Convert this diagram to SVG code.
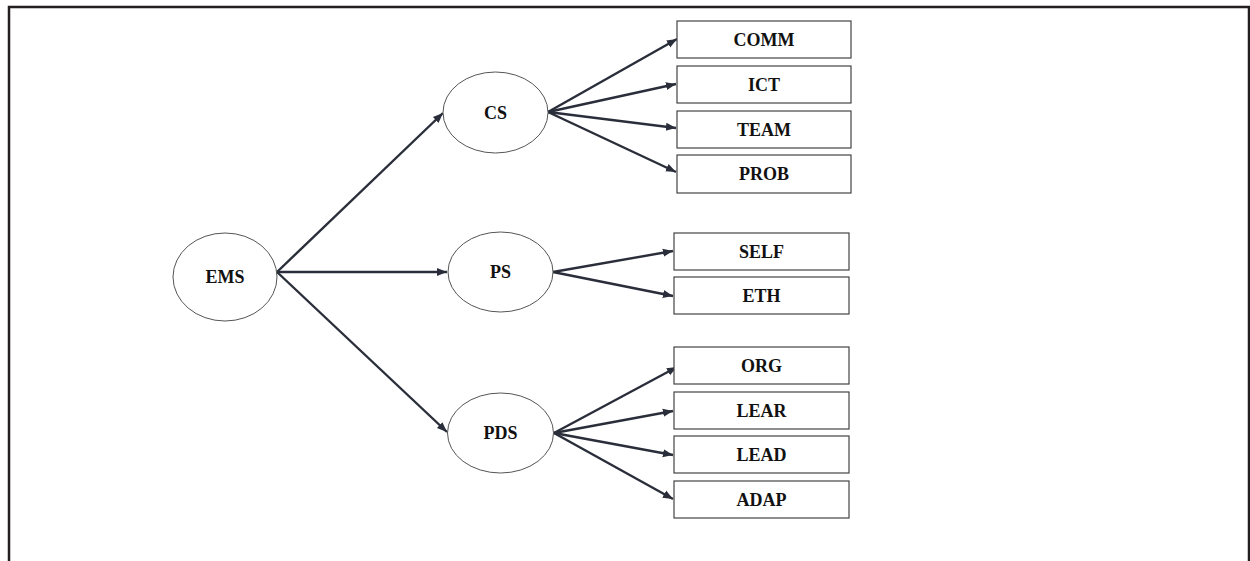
<svg xmlns="http://www.w3.org/2000/svg" width="1250" height="561" viewBox="0 0 1250 561">
<defs>
<marker id="ah" viewBox="0 0 10 10" refX="10" refY="5" markerWidth="4.2" markerHeight="4.2" orient="auto" markerUnits="strokeWidth">
<path d="M0,1 L10,5 L0,9 Z" fill="#2a2e3a"/>
</marker>
<style>
.frame{fill:none;stroke:#231f20;stroke-width:2.5}
.ell{fill:#fff;stroke:#555;stroke-width:1}
.box{fill:#fff;stroke:#444;stroke-width:1.2}
.lbl{font-family:"Liberation Serif","Times New Roman",serif;font-weight:bold;font-size:18px;fill:#111;text-anchor:middle;dominant-baseline:central}
.con{stroke:#2a2e3a;stroke-width:2.4;fill:none;marker-end:url(#ah)}
</style>
</defs>
<rect width="1250" height="561" fill="#fff"/>
<path class="frame" d="M9,561 L9,7 L1249,7 L1249,561"/>
<g id="connectors">
<line class="con" x1="277" y1="272" x2="443" y2="113"/>
<line class="con" x1="277" y1="272" x2="447" y2="272"/>
<line class="con" x1="277" y1="272" x2="447" y2="432"/>
<line class="con" x1="548" y1="112" x2="677" y2="39"/>
<line class="con" x1="548" y1="112" x2="676" y2="84"/>
<line class="con" x1="548" y1="112" x2="676" y2="128"/>
<line class="con" x1="548" y1="112" x2="676" y2="172"/>
<line class="con" x1="553" y1="272" x2="673" y2="251"/>
<line class="con" x1="553" y1="272" x2="673" y2="296"/>
<line class="con" x1="554" y1="433" x2="677" y2="367"/>
<line class="con" x1="554" y1="433" x2="673" y2="411"/>
<line class="con" x1="554" y1="433" x2="673" y2="455"/>
<line class="con" x1="554" y1="433" x2="673" y2="499"/>
</g>
<g id="EMS"><ellipse class="ell" cx="225" cy="277" rx="52" ry="44"/><text class="lbl" x="225" y="277">EMS</text></g>
<g id="CS"><ellipse class="ell" cx="495.5" cy="112.5" rx="52.5" ry="40.5"/><text class="lbl" x="495.5" y="112.5">CS</text></g>
<g id="PS"><ellipse class="ell" cx="500.5" cy="272" rx="52.5" ry="40"/><text class="lbl" x="500.5" y="272">PS</text></g>
<g id="PDS"><ellipse class="ell" cx="500.5" cy="433" rx="53" ry="40"/><text class="lbl" x="500.5" y="433">PDS</text></g>
<g id="COMM"><rect class="box" x="677" y="21" width="174" height="37"/><text class="lbl" x="764" y="39.5">COMM</text></g>
<g id="ICT"><rect class="box" x="677" y="66" width="174" height="37"/><text class="lbl" x="764" y="84.5">ICT</text></g>
<g id="TEAM"><rect class="box" x="677" y="111" width="174" height="37"/><text class="lbl" x="764" y="129.5">TEAM</text></g>
<g id="PROB"><rect class="box" x="677" y="155" width="174" height="38"/><text class="lbl" x="764" y="174">PROB</text></g>
<g id="SELF"><rect class="box" x="674" y="233" width="175" height="37"/><text class="lbl" x="761.5" y="251.5">SELF</text></g>
<g id="ETH"><rect class="box" x="674" y="277" width="175" height="37"/><text class="lbl" x="761.5" y="295.5">ETH</text></g>
<g id="ORG"><rect class="box" x="674" y="347" width="175" height="37"/><text class="lbl" x="761.5" y="365.5">ORG</text></g>
<g id="LEAR"><rect class="box" x="674" y="392" width="175" height="37"/><text class="lbl" x="761.5" y="410.5">LEAR</text></g>
<g id="LEAD"><rect class="box" x="674" y="436" width="175" height="37"/><text class="lbl" x="761.5" y="454.5">LEAD</text></g>
<g id="ADAP"><rect class="box" x="674" y="481" width="175" height="37"/><text class="lbl" x="761.5" y="499.5">ADAP</text></g>
</svg>
